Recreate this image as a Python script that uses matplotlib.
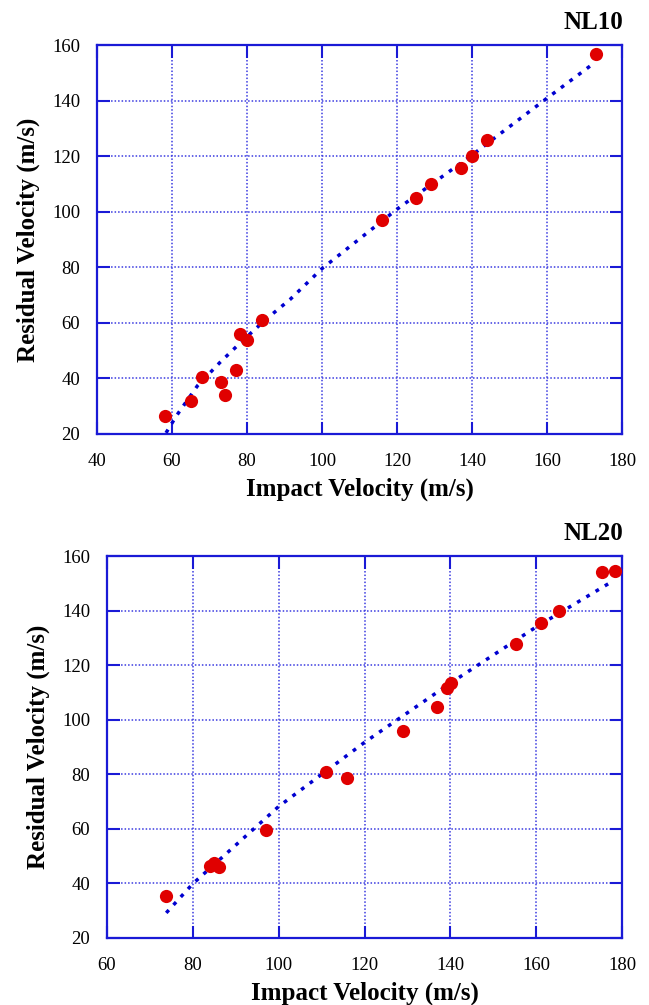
import matplotlib
matplotlib.use('Agg')
import matplotlib.pyplot as plt

plt.rcParams['font.family'] = ['Liberation Serif', 'DejaVu Serif']

# NL10 measured points
nl10_impact = [58, 65, 68, 73, 74, 77, 78, 80, 84, 116, 125, 129, 137, 140, 144, 173]
nl10_residual = [26.6, 31.7, 40.7, 38.7, 33.9, 42.9, 56.1, 53.7, 60.9, 97, 105, 110, 116, 120, 126, 157]
# NL10 trend line
nl10_fit_x = [58.4, 61.2, 66.8, 72.8, 79.1, 85.3, 91.5, 100, 120, 140, 160, 172.6]
nl10_fit_y = [20.4, 26.6, 37.4, 45.8, 54.0, 61.6, 68.5, 79.6, 101, 120.5, 141, 153.7]

# NL20 measured points
nl20_impact = [73.8, 84, 85, 86, 97, 111, 116, 129, 137, 139.2, 140.2, 155.2, 161.2, 165.3, 175.3, 178.4]
nl20_residual = [35.5, 46.2, 47.5, 46.0, 59.7, 80.7, 78.5, 95.8, 104.8, 111.8, 113.6, 127.8, 135.6, 139.9, 154.1, 154.6]
# NL20 trend line
nl20_fit_x = [73.8, 80, 100, 120, 140, 160, 177.3]
nl20_fit_y = [29.2, 39.9, 68.2, 91.7, 113.4, 134.0, 150.3]

frame_blue = '#1a1ad6'
grid_blue = '#3a3ae0'
dot_red = '#e00000'


def style_axes(ax, xlim, xticks, ypad):
    ax.set_xlim(xlim)
    ax.set_ylim(20, 160)
    ax.set_xticks(xticks)
    ax.set_yticks(range(20, 161, 20))
    for sp in ax.spines.values():
        sp.set_color(frame_blue)
        sp.set_linewidth(1.6)
    ax.grid(True, linestyle=(0, (1, 1.3)), color=grid_blue, linewidth=1.1)
    ax.tick_params(direction='in', length=9, width=1.5, color=frame_blue,
                   top=True, right=True, labelsize=13.5)
    ax.tick_params(axis='x', pad=14)
    ax.tick_params(axis='y', pad=12)
    ax.set_xlabel('Impact Velocity (m/s)', fontsize=18, fontweight='bold', labelpad=5)
    ax.set_ylabel('Residual Velocity (m/s)', fontsize=18, fontweight='bold', labelpad=ypad)


fig = plt.figure(figsize=(6.49, 10.05), dpi=100)

ax1 = fig.add_axes([0.1495, 0.5682, 0.809, 0.3866])
ax1.plot(nl10_fit_x, nl10_fit_y, color='#0000d0', linewidth=2.5,
         linestyle=(0, (1.1, 2.0)), dash_capstyle='butt', zorder=3)
ax1.plot(nl10_impact, nl10_residual, 'o', color=dot_red, markersize=9.5,
         markeredgewidth=0, zorder=4)
style_axes(ax1, (40, 180), range(40, 181, 20), 9)
fig.text(0.96, 0.978, 'NL10', ha='right', va='center', fontsize=18, fontweight='bold')

ax2 = fig.add_axes([0.1649, 0.0667, 0.7935, 0.380])
ax2.plot(nl20_fit_x, nl20_fit_y, color='#0000d0', linewidth=2.5,
         linestyle=(0, (1.1, 2.0)), dash_capstyle='butt', zorder=3)
ax2.plot(nl20_impact, nl20_residual, 'o', color=dot_red, markersize=9.5,
         markeredgewidth=0, zorder=4)
style_axes(ax2, (60, 180), range(60, 181, 20), 9)
fig.text(0.96, 0.469, 'NL20', ha='right', va='center', fontsize=18, fontweight='bold')

fig.savefig('out.png', dpi=100)
